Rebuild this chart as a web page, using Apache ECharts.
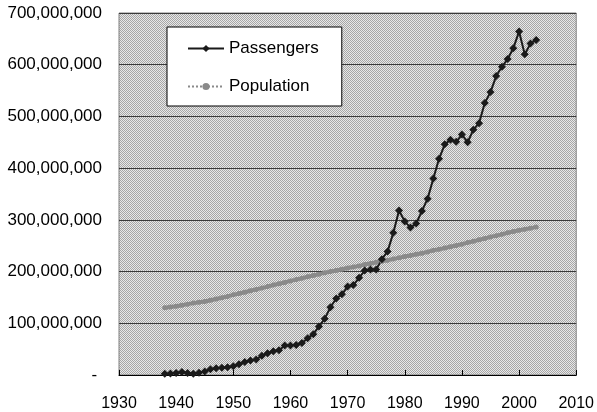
<!DOCTYPE html>
<html>
<head>
<meta charset="utf-8">
<script src="https://cdn.jsdelivr.net/npm/echarts@6/dist/echarts.min.js"></script>
<style>
  html, body { margin: 0; padding: 0; background: #fff; }
  #chart { width: 597px; height: 412px; }
</style>
</head>
<body>
<div id="chart"></div>
<script>
// years 1938 - 2003
const years = [];
for (let y = 1938; y <= 2003; y++) years.push(y);

// passengers, millions
const passengers = [
  2.5, 3, 4, 6, 4, 2.5, 4.5, 7, 11, 13,
  14, 15, 17, 21, 25, 28, 30, 37, 42, 46,
  48, 57, 57, 58, 62, 71, 79, 94, 109, 131,
  148, 156, 171, 174, 188, 202, 204, 204, 224, 239,
  275, 318, 297, 285, 293, 317, 341, 380, 418, 446,
  455, 451, 465, 450, 474, 487, 526, 547, 578, 596,
  611, 632, 664, 620, 641, 648
];

// population, millions
const population = [
  130, 131.5, 133, 135, 137, 139, 140.5, 142, 144.5, 147,
  149.5, 152, 155, 157.5, 160, 163, 165.5, 168, 171, 174,
  176.5, 179, 182, 184.5, 187, 190, 192.5, 195, 197.5, 200,
  202, 204.5, 207, 209, 211, 213.5, 215.5, 218, 220, 222,
  224.5, 226.5, 229, 231, 233.5, 235.5, 238, 241, 243, 245.5,
  248, 250.5, 253, 256, 258.5, 261.5, 264, 267, 269.5, 272,
  275, 277.5, 280, 282, 284, 286
];

const seriesNames = ['Passengers', 'Population'];

// dithered grey fill like the original plot area
function makePattern() {
  const c = document.createElement('canvas');
  c.width = 2; c.height = 2;
  const ctx = c.getContext('2d');
  ctx.fillStyle = '#e8e8e8';
  ctx.fillRect(0, 0, 2, 2);
  ctx.fillStyle = '#a6a6a6';
  ctx.fillRect(0, 0, 1, 1);
  ctx.fillRect(1, 1, 1, 1);
  return c;
}

const chart = echarts.init(document.getElementById('chart'));
const toPairs = (vals) => years.map((y, i) => [y, vals[i] * 1e6]);

chart.setOption({
  animation: false,
  textStyle: { fontFamily: 'Liberation Sans, Arial, sans-serif' },
  grid: {
    left: 119, right: 20, top: 13, bottom: 36,
    show: true,
    backgroundColor: { image: makePattern(), repeat: 'repeat' },
    borderColor: '#808080',
    borderWidth: 1
  },
  legend: {
    orient: 'vertical',
    left: 167,
    top: 27,
    backgroundColor: '#fff',
    borderColor: '#000',
    borderWidth: 1,
    padding: [13, 23, 11, 20],
    itemWidth: 36,
    itemHeight: 9,
    itemGap: 21,
    textStyle: { fontSize: 17, color: '#000' },
    data: [
      { name: seriesNames[0] },
      { name: seriesNames[1], lineStyle: { type: 'dotted', width: 2 } }
    ]
  },
  xAxis: {
    type: 'value',
    min: 1930,
    max: 2010,
    interval: 10,
    axisLine: { lineStyle: { color: '#000', width: 1 } },
    axisTick: { show: true, inside: true, length: 5, lineStyle: { color: '#000' } },
    axisLabel: { fontSize: 16, color: '#000', margin: 21, formatter: v => String(v) },
    splitLine: { show: false }
  },
  yAxis: {
    type: 'value',
    min: 0,
    max: 700000000,
    interval: 100000000,
    axisLine: { show: false },
    axisTick: { show: false },
    axisLabel: {
      fontSize: 17,
      color: '#000',
      margin: 17,
      formatter: v => v === 0 ? '- ' : v.toLocaleString('en-US')
    },
    splitLine: { lineStyle: { color: '#3a3a3a', width: 1 } }
  },
  series: [
    {
      name: seriesNames[1],
      type: 'line',
      data: toPairs(population),
      symbol: 'circle',
      symbolSize: 5,
      itemStyle: { color: '#8a8a8a' },
      lineStyle: { color: '#8a8a8a', width: 4 }
    },
    {
      name: seriesNames[0],
      type: 'line',
      data: toPairs(passengers),
      symbol: 'diamond',
      symbolSize: 8,
      itemStyle: { color: '#1a1a1a' },
      lineStyle: { color: '#1a1a1a', width: 2 }
    }
  ]
});
</script>
</body>
</html>
